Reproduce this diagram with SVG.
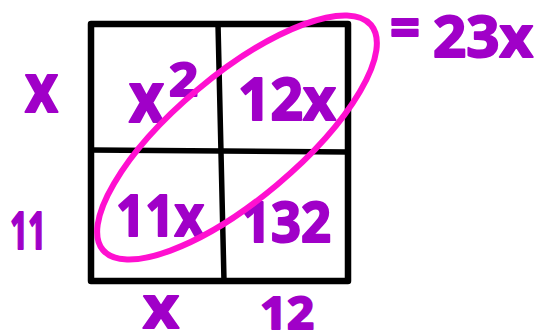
<svg xmlns="http://www.w3.org/2000/svg" width="534" height="336" viewBox="0 0 534 336">
<style>
.t{font-family:"Noto Sans","DejaVu Sans",sans-serif;font-weight:700;fill:#a000c8;stroke:#a000c8;stroke-width:2;stroke-linejoin:round}
.g{stroke:#000;fill:none;stroke-linecap:round;stroke-linejoin:round}
</style>
<rect width="534" height="336" fill="#fff"/>
<g id="grid">
<rect class="g" x="91" y="24" width="257" height="257" stroke-width="6.5"/>
<line class="g" x1="218" y1="24" x2="224" y2="281" stroke-width="5.5"/>
<line class="g" x1="91" y1="150" x2="348" y2="152" stroke-width="5.5"/>
</g>
<g id="labels">
<text class="t" x="25" y="112" font-size="68" textLength="33" lengthAdjust="spacingAndGlyphs">x</text>
<text class="t" x="10" y="249" font-size="52" textLength="36" lengthAdjust="spacingAndGlyphs">11</text>
<text class="t" x="143" y="328" font-size="60" textLength="36" lengthAdjust="spacingAndGlyphs">x</text>
<text class="t" x="260" y="329" font-size="44" textLength="54" lengthAdjust="spacingAndGlyphs">12</text>
</g>
<g id="cell-x2">
<text class="t" x="129" y="122" font-size="70" textLength="35" lengthAdjust="spacingAndGlyphs">x</text>
<text class="t" x="169" y="96" font-size="46" textLength="29" lengthAdjust="spacingAndGlyphs">2</text>
</g>
<g id="cell-12x"><text class="t" x="238" y="120" font-size="60" textLength="98" lengthAdjust="spacingAndGlyphs">12x</text></g>
<g id="cell-11x"><text class="t" x="116" y="236" font-size="58" textLength="88" lengthAdjust="spacingAndGlyphs">11x</text></g>
<g id="cell-132"><text class="t" x="241" y="242" font-size="56" textLength="90" lengthAdjust="spacingAndGlyphs">132</text></g>
<g id="connectors">
<ellipse cx="237" cy="137.5" rx="175" ry="62" transform="rotate(-40 237 137.5)" fill="none" stroke="#ff10d0" stroke-width="6"/>
</g>
<g id="sum">
<text class="t" x="390" y="48" font-size="58" textLength="30" lengthAdjust="spacingAndGlyphs">=</text>
<text class="t" x="433" y="57" font-size="58" textLength="100" lengthAdjust="spacingAndGlyphs">23x</text>
</g>
</svg>
